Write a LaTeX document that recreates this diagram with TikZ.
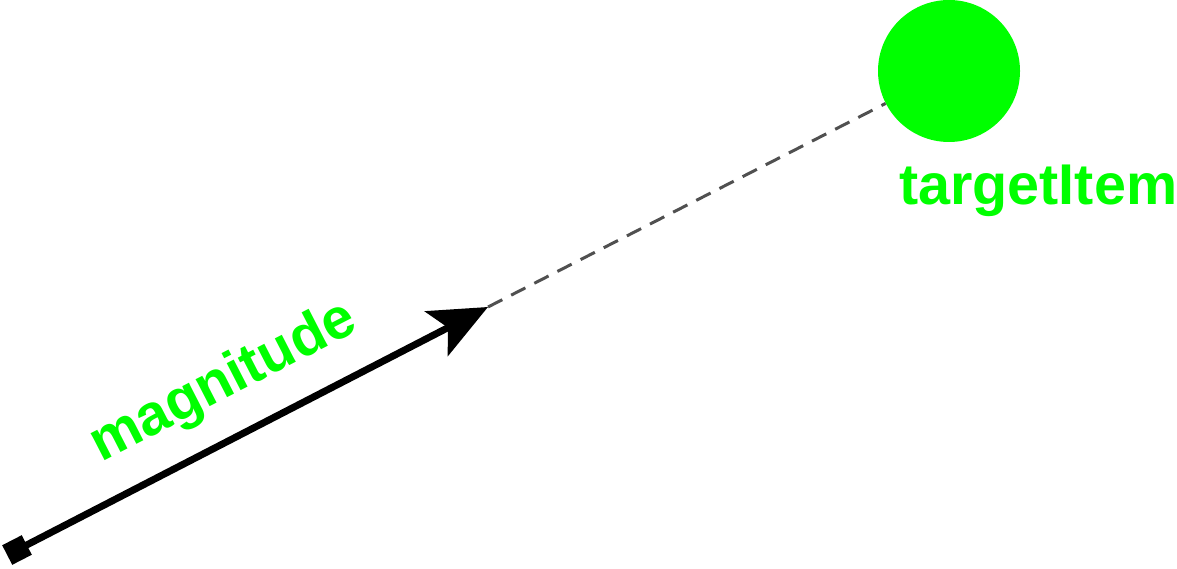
\documentclass[tikz,border=0pt]{standalone}
\usepackage{fontspec}
\setmainfont{Liberation Sans}
\usetikzlibrary{arrows.meta}
\definecolor{brightgreen}{HTML}{00FF00}
\definecolor{dashgray}{HTML}{505050}
\begin{document}
\begin{tikzpicture}[x=1pt,y=1pt,
  lbl/.style={text=brightgreen, font=\fontsize{57.5}{62}\selectfont\bfseries, inner sep=0pt},
  vec/.style={line width=7pt, -{Stealth[length=58pt,width=50pt,inset=13pt]}},
  guide/.style={draw=dashgray, line width=3pt, dash pattern=on 16pt off 10pt}]
\useasboundingbox (0,0) rectangle (1177,568);
\node[circle, fill=brightgreen, minimum size=142pt, inner sep=0pt] (target) at (949,497) {};
\node[lbl, anchor=base west] (tlabel) at (899,363) {targetItem};
\node[fill=black, minimum size=22pt, inner sep=0pt, rotate=27.2] (start) at (17,18) {};
\coordinate (tip) at (488,261);
\draw[vec] (start.center) -- (tip);
\draw[guide] (tip) -- (target);
\node[lbl, anchor=base west, rotate=27.2] (mlabel) at (101,105) {magnitude};
\end{tikzpicture}
\end{document}
